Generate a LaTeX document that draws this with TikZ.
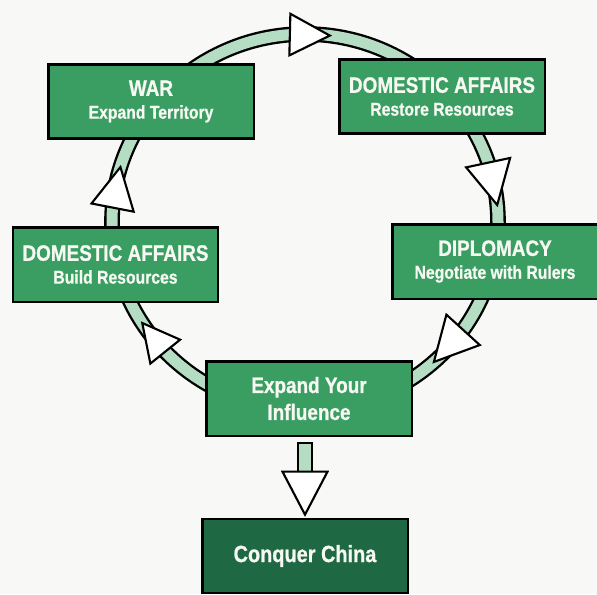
\documentclass[tikz,border=0pt]{standalone}
\usepackage{fontspec}
\usetikzlibrary{calc}
\newfontfamily\cardfont{Liberation Sans}[FakeStretch=0.85, BoldFeatures={FakeBold=0.8}]
\definecolor{boxgreen}{RGB}{58,158,99}
\definecolor{darkgreen}{RGB}{30,104,68}
\definecolor{bandgreen}{RGB}{180,221,196}
\definecolor{paper}{RGB}{248,248,246}
\definecolor{label}{RGB}{246,248,242}
\tikzset{
  card/.style={rectangle, draw=black, line width=2pt, fill=boxgreen, text=label,
    minimum width=6.16cm, minimum height=2.23cm, inner sep=0pt, align=center,
    font=\cardfont\bfseries\fontsize{15.8}{19.5}\selectfont},
  band/.style={draw=black, line width=2pt, double=bandgreen, double distance=0.33cm},
  head/.style={fill=white, draw=black, line width=1.8pt, line join=miter}
}
\newcommand{\hd}[1]{{\fontsize{19}{19.5}\selectfont #1}}

\begin{document}
\begin{tikzpicture}[x=0.03cm, y=-0.03cm]
    \fill[paper] (0,0) rectangle (597,594);
    \useasboundingbox (0,0) rectangle (597,594);
% Cycle band
    \draw[band] (305,222) ellipse [x radius=193, y radius=188];
% Boxes
    \node[card] (war) at (151,101.5) {\hd{WAR}\\Expand Territory};
    \node[card] (restore) at (442,96.5) {\hd{DOMESTIC AFFAIRS}\\Restore Resources};
    \node[card] (build) at (115.5,264.5) {\hd{DOMESTIC AFFAIRS}\\Build Resources};
    \node[card] (diplo) at (495,261.5) {\hd{DIPLOMACY}\\Negotiate with Rulers};
    \node[card, font=\cardfont\bfseries\fontsize{19}{23}\selectfont] (infl) at (309,398.5) {Expand Your\\Influence};
    \node[card, fill=darkgreen, font=\cardfont\bfseries\fontsize{20}{23}\selectfont] (china) at (305,556) {Conquer China};
% Arrowheads on the band
    \foreach \a/\b in {94.5/82.6, 18.4/5.2, -35/-48.1, -136.4/-147.5, 175.6/163} {
        \coordinate (hb) at ({305+193*cos(\a)},{222-188*sin(\a)});
        \coordinate (ht) at ({305+193*cos(\b)},{222-188*sin(\b)});
        \filldraw[head] (ht) -- ($(hb)!0.52!90:(ht)$) -- ($(hb)!0.52!-90:(ht)$) -- cycle;
    }
% Way out
    \filldraw[head, fill=bandgreen] ($(china.north)+(-7,-75)$) rectangle ($(china.north)+(7,-45)$);
    \coordinate (tip) at ($(china.north)+(0,-3)$);
    \filldraw[head] (tip) -- ++(-22.5,-43) -- ++(45,0) -- cycle;
\end{tikzpicture}
\end{document}
